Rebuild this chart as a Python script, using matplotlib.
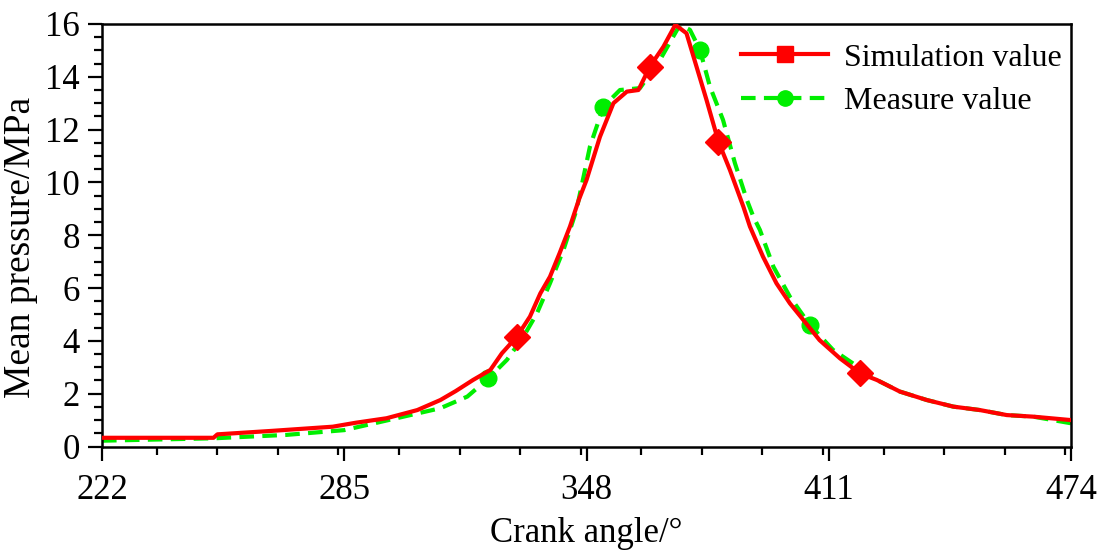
import matplotlib.pyplot as plt
from matplotlib.lines import Line2D
from matplotlib.ticker import MultipleLocator

plt.rcParams['font.family'] = ['Liberation Serif', 'DejaVu Serif']

# simulation curve (red)
sim_angle = [222, 251, 252, 266, 282, 288, 296, 304, 310, 314, 318.5, 323, 326,
             329.9, 333.3, 336, 338.5, 341, 343.7, 346, 348, 351.5, 355, 358.5,
             361.5, 364.5, 368, 371.1, 374, 376.6, 379.2, 382.3, 385.3, 388.8,
             390.5, 393.9, 397.4, 400.9, 404.4, 408.6, 413.9, 419.1, 423.5,
             429.5, 436.5, 443.4, 450.3, 457.3, 464.2, 474]
sim_pressure = [0.33, 0.33, 0.46, 0.59, 0.75, 0.9, 1.07, 1.38, 1.76, 2.1, 2.52,
                2.9, 3.53, 4.16, 4.92, 5.8, 6.43, 7.32, 8.33, 9.34, 10.09, 11.73,
                13.0, 13.44, 13.5, 14.39, 15.14, 15.97, 15.65, 14.39, 13.13,
                11.55, 10.47, 9.08, 8.33, 7.19, 6.18, 5.42, 4.79, 4.03, 3.34,
                2.77, 2.52, 2.08, 1.76, 1.51, 1.38, 1.19, 1.13, 1.0]
sim_marks = [13, 25, 31, 41]

# measured curve (green)
mea_angle = [222, 251, 270, 285, 298, 310, 317, 322.5, 327.3, 331.6, 335.1,
             338.5, 342, 345.4, 348.9, 352.4, 356.7, 361.9, 367.1, 372.3, 374.9,
             377.5, 380.1, 383.5, 386.6, 389.7, 391.4, 393.1, 396.6, 400.9,
             406.1, 412.1, 420.8, 423.5, 429.5, 436.5, 443.4, 450.3, 457.3,
             464.2, 474]
mea_pressure = [0.22, 0.31, 0.44, 0.62, 1.05, 1.45, 1.89, 2.58, 3.28, 4.16,
                5.04, 6.18, 7.44, 8.96, 11.36, 12.87, 13.5, 13.57, 14.64, 15.97,
                15.78, 15.02, 13.63, 12.37, 10.73, 9.34, 8.7, 8.2, 6.81, 5.67,
                4.6, 3.66, 2.8, 2.52, 2.08, 1.76, 1.51, 1.38, 1.19, 1.13, 0.88]
mea_marks = [7, 15, 21, 30]

x_ticks = [222, 285, 348, 411, 474]

fig = plt.figure(figsize=(11.02, 5.56), dpi=100)
ax = fig.add_axes([102/1102, 1 - 446.5/556, 969/1102, 422.5/556])

ax.plot(sim_angle, sim_pressure, color='#ff0000', lw=3, marker='D',
        markersize=13, markevery=sim_marks, zorder=3)
ax.plot(mea_angle, mea_pressure, color='#00ee00', lw=3, ls=(0, (3.5, 2)),
        marker='o', markersize=12, markevery=mea_marks, zorder=2)

ax.set_xlim(222, 474)
ax.set_ylim(0, 16)
ax.set_xticks(x_ticks)
ax.xaxis.set_minor_locator(MultipleLocator(15.75))
ax.yaxis.set_major_locator(MultipleLocator(2))
ax.yaxis.set_minor_locator(MultipleLocator(0.5))
ax.tick_params(which='major', direction='out', length=10, width=1.6,
               labelsize=25, pad=6)
ax.tick_params(which='minor', direction='out', length=6, width=1.6)
ax.tick_params(axis='x', which='major', pad=10)
for s in ax.spines.values():
    s.set_linewidth(1.8)

ax.set_xlabel('Crank angle/°', fontsize=25, labelpad=7)
ax.set_ylabel('Mean pressure/MPa', fontsize=27)
ax.yaxis.set_label_coords(-0.066, 0.47)

handles = [
    Line2D([], [], color='#ff0000', lw=3, marker='s', markersize=12),
    Line2D([], [], color='#00ee00', lw=3, ls=(0, (3.5, 2)), marker='o',
           markersize=11),
]
ax.legend(handles, ['Simulation value', 'Measure value'], loc='upper right',
          bbox_to_anchor=(1.0, 0.977), frameon=False, fontsize=23,
          handlelength=2.7, handletextpad=0.5, borderaxespad=0.0,
          labelspacing=0.45, borderpad=0.3)

fig.savefig('out.png', dpi=100)
